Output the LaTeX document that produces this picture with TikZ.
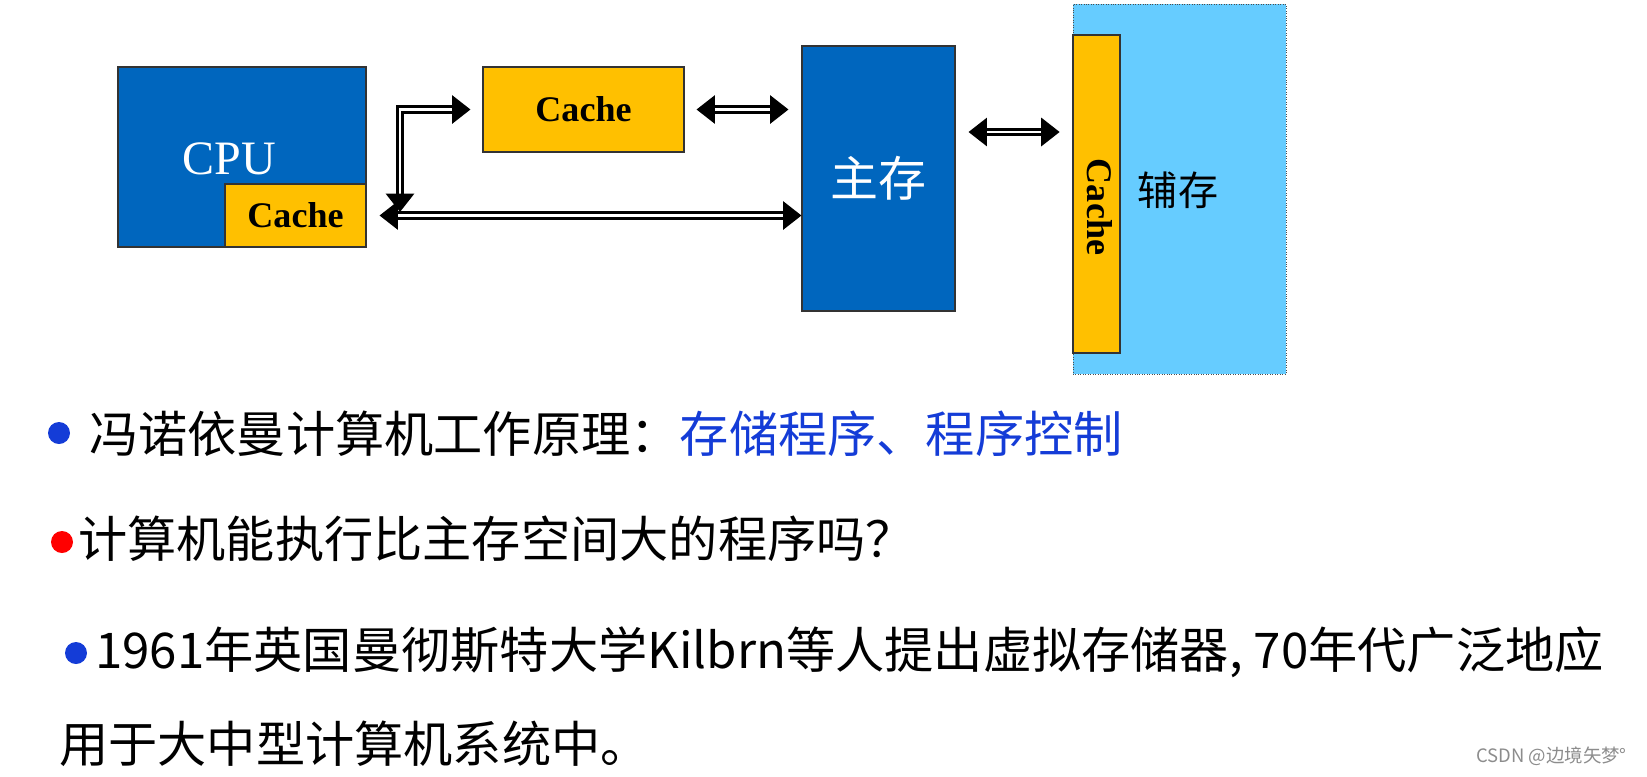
\documentclass[tikz,border=0pt]{standalone}
\usepackage{fontspec}
\setmainfont{Liberation Serif}
\newfontfamily\cjk{Noto Sans CJK SC}
\usetikzlibrary{arrows.meta}
\definecolor{boxblue}{RGB}{0,102,190}
\definecolor{cacheyellow}{RGB}{255,192,0}
\definecolor{diskblue}{RGB}{102,204,255}
\definecolor{textblue}{RGB}{20,60,215}

\begin{document}
\begin{tikzpicture}[
  unit/.style={draw=black!80, line width=0.6pt, inner sep=0pt},
  cachefont/.style={font=\bfseries\fontsize{20.5}{24}\selectfont},
  bus/.style={double, double distance=1.4pt, line width=1.7pt,
    {Triangle[length=10.5pt,width=16pt]}-{Triangle[length=10.5pt,width=16pt]}},
  bulletdot/.style={circle, inner sep=0pt, minimum size=0.44cm},
  textline/.style={anchor=base west, inner sep=0pt, font=\cjk\fontsize{28}{33}\selectfont}]
\useasboundingbox (0,0) rectangle (32.94,-15.52);
% CPU with its own cache
\node[unit, fill=boxblue, minimum width=4.96cm, minimum height=3.6cm] (cpu) at (4.84,-3.14) {};
\node[text=white, font=\fontsize{27.3}{30}\selectfont] (cpulabel) at (4.58,-3.18) {CPU};
\node[unit, fill=cacheyellow, minimum width=2.82cm, minimum height=1.26cm, cachefont] (l1cache) at (5.91,-4.31) {Cache};
% outer cache
\node[unit, fill=cacheyellow, minimum width=4.02cm, minimum height=1.7cm, cachefont] (l2cache) at (11.67,-2.19) {Cache};
% main memory
\node[unit, fill=boxblue, minimum width=3.06cm, minimum height=5.3cm, text=white,
      font=\cjk\fontsize{27.3}{30}\selectfont] (mem) at (17.57,-3.57) {主存};
% secondary storage with cache strip
\node[draw=black!70, densely dotted, fill=diskblue, minimum width=4.26cm, minimum height=7.4cm, inner sep=0pt] (disk) at (23.59,-3.78) {};
\node[font=\cjk\fontsize{22.8}{26}\selectfont] (disklabel) at (23.56,-3.80) {辅存};
\node[unit, fill=cacheyellow, minimum width=0.94cm, minimum height=6.36cm] (dcache) at (21.93,-3.88) {};
\node[rotate=-90, cachefont] (dcachelabel) at (22.0,-4.14) {Cache};
% buses
\coordinate (split) at (8.0,-4.24);
\draw[bus] (split) |- ([xshift=-0.24cm]l2cache.west);
\draw[bus] ([xshift=0.26cm]l1cache.east) -- (l1cache.east -| mem.west);
\draw[bus] ([xshift=0.24cm]l2cache.east) -- ([xshift=-0.26cm]l2cache.east -| mem.west);
\draw[bus] ([xshift=0.26cm,yshift=0.93cm]mem.east) -- ([xshift=-0.26cm,yshift=0.93cm]mem.east -| disk.west);
% notes below
\node[bulletdot, fill=textblue] (b1) at (1.18,-8.66) {};
\node[textline] (t1) at (1.78,-9.04) {冯诺依曼计算机工作原理：\textcolor{textblue}{存储程序、程序控制}};
\node[bulletdot, fill=red] (b2) at (1.24,-10.84) {};
\node[textline] (t2) at (1.56,-11.14) {计算机能执行比主存空间大的程序吗？};
\node[bulletdot, fill=textblue] (b3) at (1.52,-13.06) {};
\node[textline] (t3) at (1.90,-13.36) {1961年英国曼彻斯特大学Kilbrn等人提出虚拟存储器, 70年代广泛地应};
\node[textline] (t4) at (1.18,-15.24) {用于大中型计算机系统中。};
\node[anchor=east, text=black!45, font=\cjk\fontsize{10.5}{12}\selectfont] (mark) at (32.66,-15.12) {CSDN @边境矢梦°};
\end{tikzpicture}
\end{document}
